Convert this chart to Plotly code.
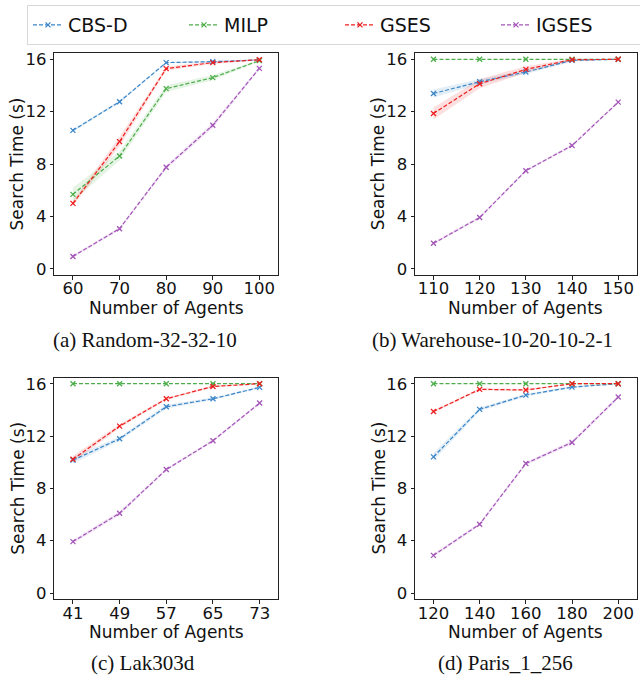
import plotly.graph_objects as go

# ---------------- data ----------------
methods = ["CBS-D", "MILP", "GSES", "IGSES"]

agents_a = [60, 70, 80, 90, 100]
cbsd_a = [10.57, 12.76, 15.75, 15.82, 15.95]
milp_a = [5.68, 8.61, 13.76, 14.6, 15.9]
gses_a = [4.99, 9.71, 15.29, 15.75, 15.97]
igses_a = [0.94, 3.06, 7.75, 10.96, 15.31]
cbsd_a_ci = [0.1, 0.1, 0.05, 0.05, 0.02]
milp_a_ci = [0.5, 0.35, 0.25, 0.2, 0.05]
gses_a_ci = [0.2, 0.35, 0.15, 0.1, 0.03]
igses_a_ci = [0.1, 0.1, 0.15, 0.2, 0.1]

agents_b = [110, 120, 130, 140, 150]
cbsd_b = [13.39, 14.29, 15.03, 15.92, 16.0]
milp_b = [16.0, 16.0, 16.0, 16.0, 16.0]
gses_b = [11.86, 14.13, 15.23, 15.97, 16.0]
igses_b = [1.94, 3.91, 7.49, 9.41, 12.73]
cbsd_b_ci = [0.3, 0.2, 0.15, 0.1, 0.0]
milp_b_ci = [0.0, 0.0, 0.0, 0.0, 0.0]
gses_b_ci = [0.45, 0.35, 0.25, 0.1, 0.0]
igses_b_ci = [0.1, 0.1, 0.1, 0.1, 0.1]

agents_c = [41, 49, 57, 65, 73]
cbsd_c = [10.16, 11.79, 14.24, 14.85, 15.72]
milp_c = [16.0, 16.0, 16.0, 16.0, 16.0]
gses_c = [10.23, 12.76, 14.85, 15.79, 16.0]
igses_c = [3.93, 6.1, 9.44, 11.64, 14.52]
cbsd_c_ci = [0.25, 0.15, 0.15, 0.1, 0.08]
milp_c_ci = [0.0, 0.0, 0.0, 0.0, 0.0]
gses_c_ci = [0.25, 0.15, 0.1, 0.08, 0.0]
igses_c_ci = [0.15, 0.15, 0.1, 0.1, 0.1]

agents_d = [120, 140, 160, 180, 200]
cbsd_d = [10.41, 14.04, 15.13, 15.74, 16.0]
milp_d = [16.0, 16.0, 16.0, 16.0, 16.0]
gses_d = [13.88, 15.57, 15.52, 16.0, 16.0]
igses_d = [2.88, 5.26, 9.9, 11.51, 14.98]
cbsd_d_ci = [0.3, 0.15, 0.1, 0.08, 0.0]
milp_d_ci = [0.0, 0.0, 0.0, 0.0, 0.0]
gses_d_ci = [0.1, 0.08, 0.08, 0.0, 0.0]
igses_d_ci = [0.12, 0.12, 0.12, 0.15, 0.12]

y_ticks = [0, 4, 8, 12, 16]
x_title = "Number of Agents"
y_title = "Search Time (s)"
captions = ["(a) Random-32-32-10", "(b) Warehouse-10-20-10-2-1",
            "(c) Lak303d", "(d) Paris_1_256"]

# ---------------- style ----------------
colors = {"CBS-D": "#3a86c8", "MILP": "#4cae4a", "GSES": "#ee1f1f", "IGSES": "#a455b8"}
fills = {"CBS-D": "rgba(58,134,200,0.14)", "MILP": "rgba(76,174,74,0.14)",
         "GSES": "rgba(238,31,31,0.14)", "IGSES": "rgba(164,85,184,0.14)"}

W, H = 640, 683
panels = [
    dict(ax="", x=agents_a, ys=[cbsd_a, milp_a, gses_a, igses_a],
         cis=[cbsd_a_ci, milp_a_ci, gses_a_ci, igses_a_ci],
         px=(54.3, 278), py=(53.3, 275), xr=[56, 104], tgap=33),
    dict(ax="2", x=agents_b, ys=[cbsd_b, milp_b, gses_b, igses_b],
         cis=[cbsd_b_ci, milp_b_ci, gses_b_ci, igses_b_ci],
         px=(415, 636.7), py=(53.3, 275), xr=[106, 154], tgap=33),
    dict(ax="3", x=agents_c, ys=[cbsd_c, milp_c, gses_c, igses_c],
         cis=[cbsd_c_ci, milp_c_ci, gses_c_ci, igses_c_ci],
         px=(54.3, 278.3), py=(377.7, 599.3), xr=[37.8, 76.2], tgap=33),
    dict(ax="4", x=agents_d, ys=[cbsd_d, milp_d, gses_d, igses_d],
         cis=[cbsd_d_ci, milp_d_ci, gses_d_ci, igses_d_ci],
         px=(415, 636.7), py=(377.7, 599.3), xr=[112, 208], tgap=33),
]

fig = go.Figure()
layout = {}
annotations = []
for i, p in enumerate(panels):
    xa, ya = "x" + p["ax"], "y" + p["ax"]
    # confidence bands
    for m, y, ci in zip(methods, p["ys"], p["cis"]):
        up = [v + c for v, c in zip(y, ci)]
        lo = [v - c for v, c in zip(y, ci)]
        fig.add_trace(go.Scatter(x=p["x"], y=up, mode="lines", line=dict(width=0),
                                 hoverinfo="skip", showlegend=False, xaxis=xa, yaxis=ya))
        fig.add_trace(go.Scatter(x=p["x"], y=lo, mode="lines", line=dict(width=0),
                                 fill="tonexty", fillcolor=fills[m],
                                 hoverinfo="skip", showlegend=False, xaxis=xa, yaxis=ya))
    for m, y in zip(methods, p["ys"]):
        fig.add_trace(go.Scatter(
            x=p["x"], y=y, mode="lines+markers", name=m,
            line=dict(color=colors[m], width=1.2, dash="4px,2px"),
            marker=dict(symbol="x-thin", size=5, line=dict(width=1.3, color=colors[m]),
                        color=colors[m]),
            showlegend=(i == 0), xaxis=xa, yaxis=ya))

    key = p["ax"]
    layout["xaxis" + key] = dict(
        domain=[p["px"][0] / W, p["px"][1] / W], anchor=ya, range=p["xr"],
        automargin=False,
        tickmode="array", tickvals=p["x"], ticktext=[str(v) for v in p["x"]],
        ticks="outside", ticklen=3.5, tickwidth=1, tickcolor="#222",
        ticklabelstandoff=-5,
        showline=True, linecolor="#222", linewidth=1, mirror=True,
        showgrid=False, zeroline=False,
        tickfont=dict(family="DejaVu Sans", size=16.5, color="#111"))
    layout["yaxis" + key] = dict(
        domain=[1 - p["py"][1] / H, 1 - p["py"][0] / H], anchor=xa, range=[-0.48, 16.46],
        automargin=False,
        tickmode="array", tickvals=y_ticks, ticktext=[str(v) for v in y_ticks],
        ticks="outside", ticklen=3.5, tickwidth=1, tickcolor="#222",
        showline=True, linecolor="#222", linewidth=1, mirror=True,
        showgrid=False, zeroline=False,
        tickfont=dict(family="DejaVu Sans", size=16.5, color="#111"))
    # axis titles as annotations
    annotations.append(dict(
        text=x_title, x=(p["px"][0] + p["px"][1]) / 2 / W, y=1 - (p["py"][1] + p["tgap"]) / H,
        xref="paper", yref="paper", xanchor="center", yanchor="middle", showarrow=False,
        font=dict(family="DejaVu Sans", size=17, color="#111")))
    annotations.append(dict(
        text=y_title, x=(p["px"][0] - 37) / W, y=1 - (p["py"][0] + p["py"][1]) / 2 / H,
        xref="paper", yref="paper", xanchor="center", yanchor="middle", showarrow=False,
        textangle=-90, font=dict(family="DejaVu Sans", size=17, color="#111")))

cap_pos = [(145, 340, "center"), (370, 340, "left"), (143, 663, "center"), (505, 663, "center")]
for txt, (cx, cy, anc) in zip(captions, cap_pos):
    annotations.append(dict(text=txt, x=cx / W, y=1 - cy / H, xref="paper", yref="paper",
                            xanchor=anc, yanchor="middle", showarrow=False,
                            font=dict(family="Liberation Serif", size=21, color="#111")))

fig.update_layout(
    width=W, height=H, margin=dict(l=0, r=0, t=0, b=0, autoexpand=False),
    paper_bgcolor="white", plot_bgcolor="white",
    showlegend=True,
    legend=dict(orientation="h", x=27 / W, y=1 - 5 / H, xanchor="left", yanchor="top",
                traceorder="normal",
                bordercolor="#d8d8d8", borderwidth=1, bgcolor="white",
                font=dict(family="DejaVu Sans", size=19, color="#111"),
                entrywidth=111, entrywidthmode="pixels"),
    annotations=annotations,
    **layout)

fig.write_html("out.html", config={"displayModeBar": False},
               post_script="document.body.style.margin='0';")
